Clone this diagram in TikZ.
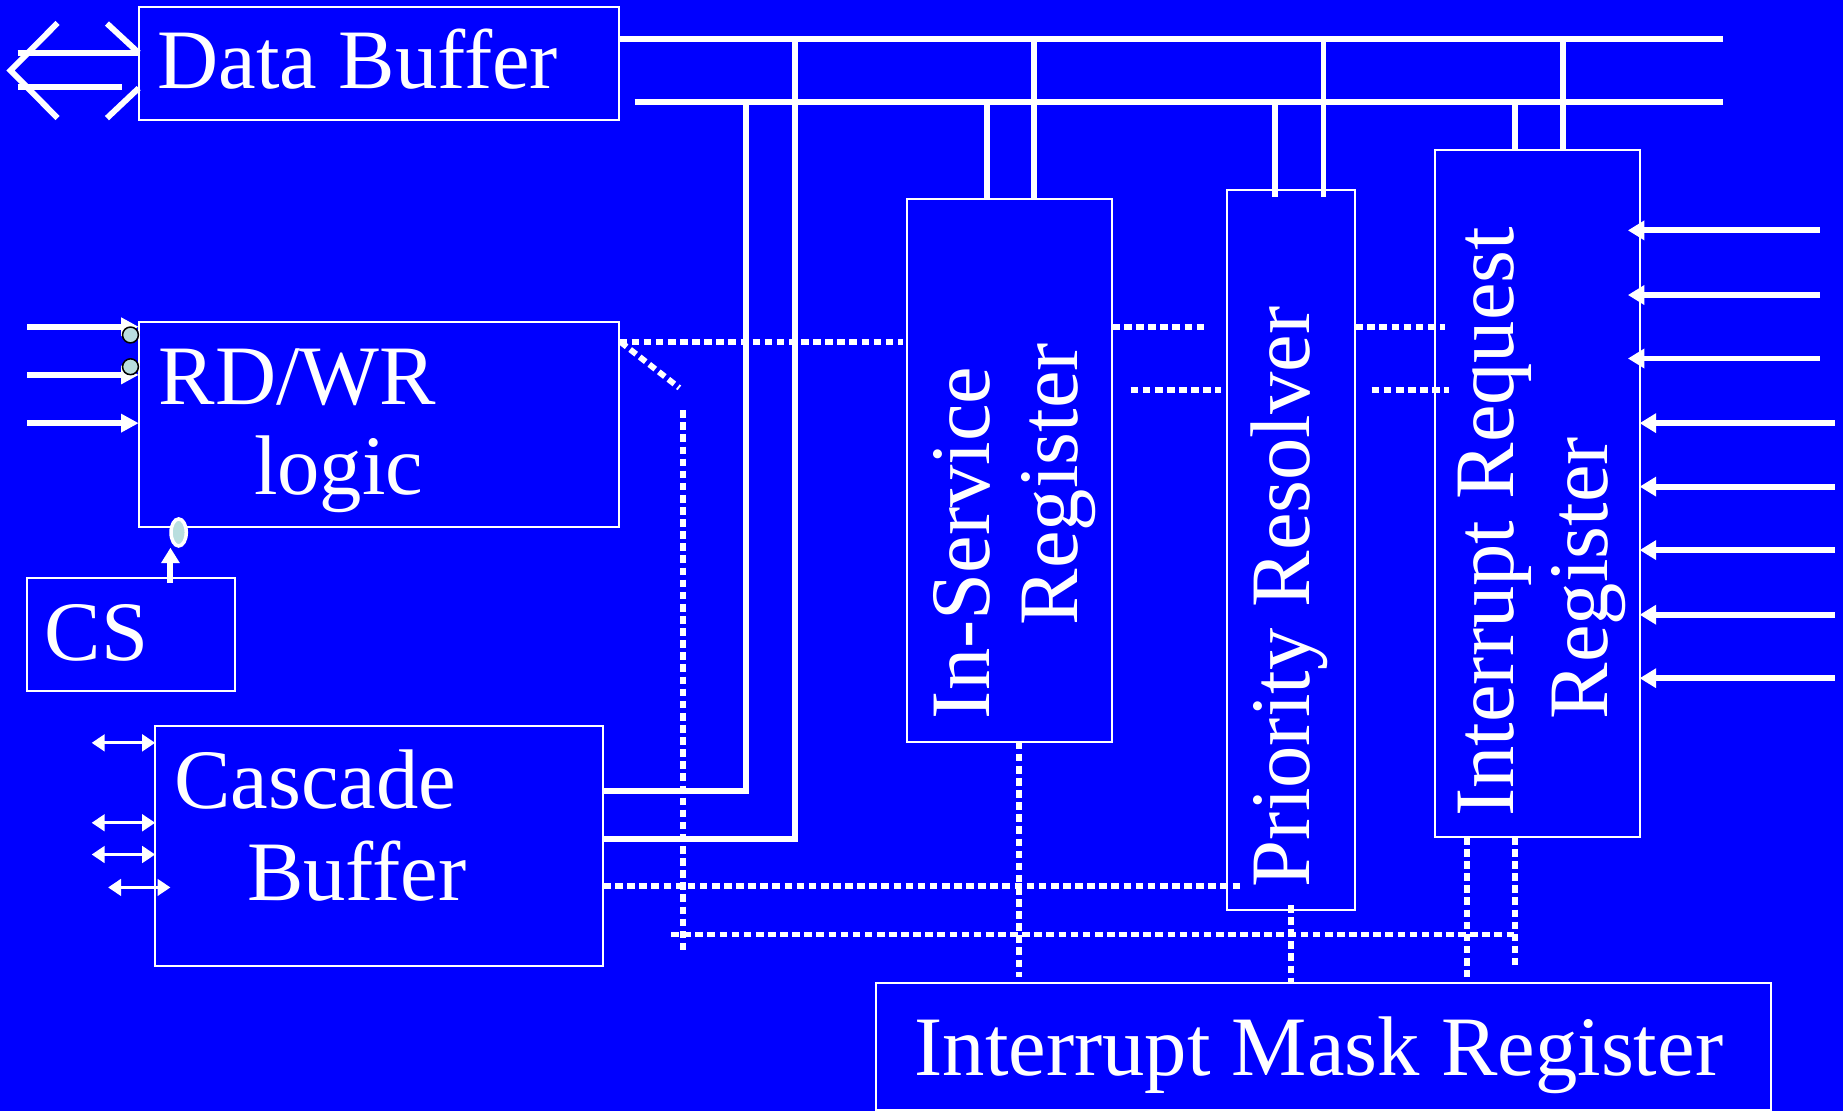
\documentclass[tikz,border=0pt]{standalone}
\usepackage{fontspec}
\setmainfont{Liberation Serif}
\usetikzlibrary{arrows.meta,shapes.geometric}
\definecolor{bg}{RGB}{0,0,255}
\definecolor{bubblefill}{RGB}{185,222,222}
\begin{document}
\begin{tikzpicture}[x=1pt,y=-1pt,
  box/.style={draw=white,line width=1.7pt,inner sep=0pt,outer sep=0pt},
  lbl/.style={text=white,font=\fontsize{72}{86}\selectfont,inner sep=0pt,anchor=base west},
  vlbl/.style={lbl,rotate=90},
  bus/.style={white,line width=5pt},
  hollow/.style={white,line width=5pt},
  dotline/.style={white,line width=5pt,dash pattern=on 6.5pt off 3.8pt},
  inarr/.style={white,line width=5pt,-{Triangle[length=15pt,width=15pt]}},
  irarr/.style={white,line width=5pt,-{Triangle[length=14pt,width=16pt]}},
  dblarr/.style={white,line width=2.6pt,{Triangle[length=11pt,width=14pt]}-{Triangle[length=11pt,width=14pt]}},
  csarr/.style={white,line width=5pt,-{Triangle[length=13pt,width=15pt]}},
  bubble/.style={circle,fill=bubblefill,draw=black,line width=1.3pt,minimum size=13.5pt,inner sep=0pt},
  oval/.style={ellipse,fill=bubblefill,draw=white,line width=3pt,minimum width=13pt,minimum height=23pt,inner sep=0pt}]
\fill[bg] (0,0) rectangle (1568,945);
\useasboundingbox (0,0) rectangle (1568,945);

% boxes
\node[box,minimum width=409pt,minimum height=96pt] (DB) at (322.5,54) {};
\node[box,minimum width=409pt,minimum height=174pt] (RW) at (322.5,361) {};
\node[box,minimum width=177pt,minimum height=96pt] (CS) at (111.5,540) {};
\node[box,minimum width=381pt,minimum height=204pt] (CB) at (322.5,720) {};
\node[box,minimum width=174pt,minimum height=462pt] (ISR) at (859,400) {};
\node[box,minimum width=109pt,minimum height=612pt] (PR) at (1098.5,468) {};
\node[box,minimum width=174pt,minimum height=584pt] (IRR) at (1308,420) {};
\node[box,minimum width=762pt,minimum height=108pt] (IMR) at (1126,890) {};

% labels
\node[lbl] (tDB) at (134,75) {Data Buffer};
\node[lbl] (tRW1) at (135,344) {RD/WR};
\node[lbl] (tRW2) at (216,421) {logic};
\node[lbl] (tCS) at (38,562) {CS};
\node[lbl] (tCB1) at (148,688) {Cascade};
\node[lbl] (tCB2) at (210,766) {Buffer};
\node[lbl] (tIMR) at (778,915) {Interrupt Mask Register};
\node[vlbl] (tISR1) at (842,612) {In-Service};
\node[vlbl] (tISR2) at (917,532) {Register};
\node[vlbl] (tPR) at (1114,755) {Priority Resolver};
\node[vlbl] (tIRR1) at (1288,695) {Interrupt Request};
\node[vlbl] (tIRR2) at (1368,612) {Register};

% hollow double arrow at data buffer
\coordinate (hl1) at (15,45);
\coordinate (hl2) at (15,74);
\draw[hollow] (49,19.5) -- (9,60) -- (49,100.5);
\draw[hollow] (hl1) -- (DB.west |- 0,45);
\draw[hollow] (hl2) -- (104,74);
\draw[hollow] (91,20) -- (DB.west |- 0,45);
\draw[hollow] (DB.west |- 0,75) -- (91,100.5);

% buses
\coordinate (busA) at (1466,33);
\coordinate (busB) at (1466,87);
\draw[bus] (DB.east |- 0,33) -- (busA);
\draw[bus] (540,87) -- (busB);
\draw[bus] (676,33) -- (676,714) -- (CB.east |- 0,714);
\draw[bus] (635,87) -- (635,673) -- (CB.east |- 0,673);
\draw[bus] (840,87) -- (840,0 |- ISR.north);
\draw[bus] (880,33) -- (880,0 |- ISR.north);
\draw[bus] (1085,87) -- (1085,168);
\draw[bus] (1126,33) -- (1126,168);
\draw[bus] (1289,87) -- (1289,0 |- IRR.north);
\draw[bus] (1330,33) -- (1330,0 |- IRR.north);

% dotted control lines
\draw[dotline] (RW.east |- 0,291) -- (768,291);
\draw[dotline] (528,291) -- (578,330);
\draw[dotline] (581,349) -- (581,808);
\draw[dotline] (ISR.east |- 0,278) -- (1024,278);
\draw[dotline] (962,332) -- (1039,332);
\draw[dotline] (PR.east |- 0,278) -- (1229,278);
\draw[dotline] (1167,332) -- (1233,332);
\draw[dotline] (CB.east |- 0,754) -- (1056,754);
\draw[dotline] (571,795) -- (1289,795);
\draw[dotline] (867,0 |- ISR.south) -- (867,831);
\draw[dotline] (1098,770) -- (1098,0 |- IMR.north);
\draw[dotline] (1248,0 |- IRR.south) -- (1248,831);
\draw[dotline] (1289,0 |- IRR.south) -- (1289,821);

% RD/WR inputs
\coordinate (r1) at (23,278);
\coordinate (r2) at (23,319);
\coordinate (r3) at (23,360);
\draw[inarr] (r1) -- (RW.west |- r1);
\draw[inarr] (r2) -- (RW.west |- r2);
\draw[inarr] (r3) -- (RW.west |- r3);
\node[bubble] (bub1) at (111,285) {};
\node[bubble] (bub2) at (111,312) {};

% CS
\node[oval] (csov) at (152,453) {};
\draw[csarr] (145,496) -- (145,466);

% cascade lines
\draw[dblarr] (78,632) -- (CB.west |- 0,632);
\draw[dblarr] (78,700) -- (CB.west |- 0,700);
\draw[dblarr] (78,727) -- (CB.west |- 0,727);
\draw[dblarr] (92,755) -- (145,755);

% IR inputs
\foreach \yy in {196,251,305} {\draw[irarr] (1548,\yy) -- (1385,\yy);}
\foreach \yy in {360,414,468,523,577} {\draw[irarr] (1561,\yy) -- (IRR.east |- 0,\yy);}
\end{tikzpicture}
\end{document}
